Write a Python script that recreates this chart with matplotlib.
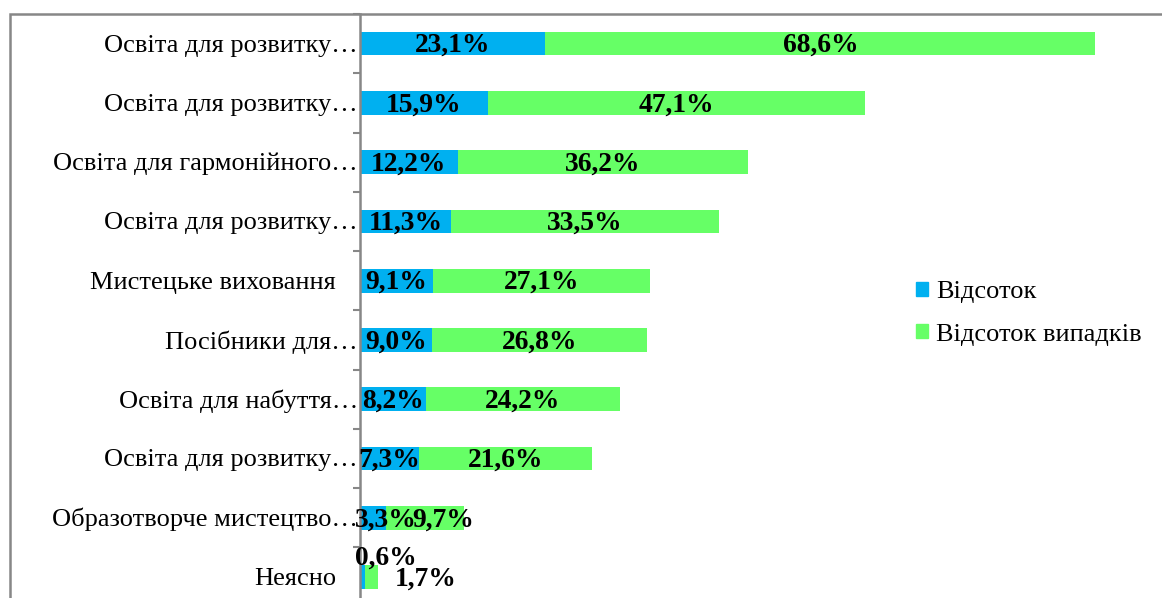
import matplotlib.pyplot as plt
from matplotlib.patches import Rectangle, Patch

categories = ['Освіта для розвитку…', 'Освіта для розвитку…', 'Освіта для гармонійного…',
              'Освіта для розвитку…', 'Мистецьке виховання', 'Посібники для…',
              'Освіта для набуття…', 'Освіта для розвитку…', 'Образотворче мистецтво…',
              'Неясно']
pct = [23.1, 15.9, 12.2, 11.3, 9.1, 9.0, 8.2, 7.3, 3.3, 0.6]
pct_cases = [68.6, 47.1, 36.2, 33.5, 27.1, 26.8, 24.2, 21.6, 9.7, 1.7]
series_names = ['Відсоток', 'Відсоток випадків']

BLUE = '#00B0F0'
GREEN = '#66FF66'
GRAY = '#878787'

plt.rcParams['font.family'] = ['Liberation Serif', 'DejaVu Serif']

W, H = 1162, 598
fig = plt.figure(figsize=(W / 100, H / 100), dpi=100)

# outer chart frame (right and bottom run off the picture)
fig.patches.append(Rectangle((10 / W, -0.1), 1.2, 1 - 14 / H + 0.1, transform=fig.transFigure,
                             fill=False, edgecolor=GRAY, lw=1.8, zorder=0))

ax_top, ax_bot = 14, 606.6
ax = fig.add_axes([360 / W, 1 - ax_bot / H, 1 - 360 / W, (ax_bot - ax_top) / H])
ax.patch.set_alpha(0)

n = len(categories)
y = list(range(n))
ax.barh(y, pct, height=0.4, color=BLUE)
ax.barh(y, pct_cases, left=pct, height=0.4, color=GREEN)
ax.set_xlim(0, 100)
ax.set_ylim(n - 0.5, -0.5)

for s in ['top', 'right', 'bottom']:
    ax.spines[s].set_visible(False)
ax.spines['left'].set_color(GRAY)
ax.spines['left'].set_linewidth(1.8)
ax.set_xticks([])
ax.set_yticks([i + 0.5 for i in range(-1, n)])
ax.set_yticklabels([])
ax.tick_params(axis='y', length=5, width=1.5, color=GRAY)

for i, c in enumerate(categories):
    dx = -2 if c.endswith('…') else -24
    ax.annotate(c, (0, i), xytext=(dx, -2), textcoords='offset pixels',
                ha='right', va='center', fontsize=19, annotation_clip=False)

# label nudges (pixels) for crowded rows
nudge_b = {8: (13, -2), 9: (23, 19)}
nudge_g = {8: (18, -2), 9: (54, -2)}

def fmt(v):
    return f'{v:.1f}%'.replace('.', ',')

for i in range(n):
    b, g = pct[i], pct_cases[i]
    ax.annotate(fmt(b), (b / 2, i), xytext=nudge_b.get(i, (0, -2)), textcoords='offset pixels',
                ha='center', va='center', fontsize=19.8, fontweight='bold', annotation_clip=False)
    ax.annotate(fmt(g), (b + g / 2, i), xytext=nudge_g.get(i, (0, -2)), textcoords='offset pixels',
                ha='center', va='center', fontsize=19.8, fontweight='bold', annotation_clip=False)

handles = [Patch(color=BLUE, label=series_names[0]), Patch(color=GREEN, label=series_names[1])]
fig.legend(handles=handles, loc='upper left', bbox_to_anchor=(916 / W, 1 - 281 / H),
           frameon=False, fontsize=19, handlelength=0.45, handleheight=0.45,
           handletextpad=0.3, labelspacing=0.78, borderpad=0, borderaxespad=0)

fig.savefig('out.png', dpi=100)
